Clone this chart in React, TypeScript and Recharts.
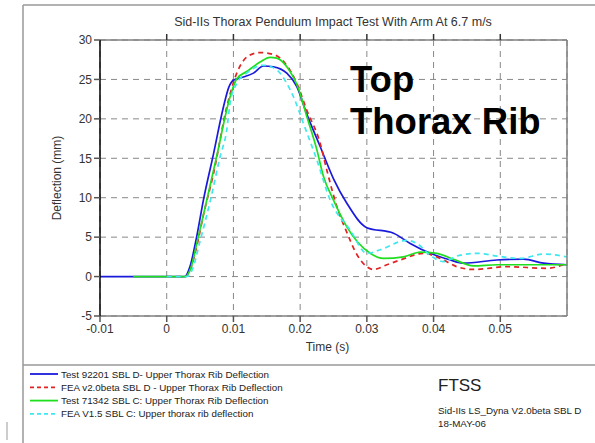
import { LineChart, Line, XAxis, YAxis, CartesianGrid } from 'recharts'

const FONT = '"Liberation Sans", Arial, sans-serif'

// axes
const xTicks = [-0.01, 0, 0.01, 0.02, 0.03, 0.04, 0.05]
const xTicksTop = [0, 0.01, 0.02, 0.03, 0.04, 0.05]
const yTicks = [-5, 0, 5, 10, 15, 20, 25, 30]

// Test 92201 SBL D
const blueT = [-0.01, -0.005, 0, 0.0027, 0.0035, 0.0045, 0.0055, 0.007, 0.0085, 0.0093, 0.01, 0.0115, 0.013, 0.0145, 0.016, 0.018, 0.0195, 0.021, 0.023, 0.025, 0.027, 0.03, 0.034, 0.0365, 0.0395, 0.0425, 0.0445, 0.0495, 0.0535, 0.0565, 0.06]
const blueV = [0, 0, 0, 0, 1.3, 5.1, 9.7, 15.5, 21.5, 24.0, 24.9, 25.3, 25.8, 26.7, 26.6, 25.8, 24.1, 20.6, 16.5, 12.4, 9.3, 6.2, 5.5, 4.2, 2.95, 2.1, 1.7, 2.1, 2.2, 1.7, 1.5]

// FEA v2.0beta SBL D
const redT = [0, 0.0028, 0.0035, 0.0045, 0.0055, 0.007, 0.009, 0.0105, 0.0125, 0.014, 0.0162, 0.0178, 0.0195, 0.021, 0.023, 0.024, 0.0255, 0.027, 0.0285, 0.03, 0.031, 0.033, 0.035, 0.0385, 0.041, 0.0435, 0.046, 0.051, 0.057, 0.06]
const redV = [0, 0, 0.8, 3.8, 7.8, 13.0, 21.5, 25.8, 28.1, 28.4, 28.1, 27.0, 24.5, 21.1, 16.9, 13.5, 8.9, 5.6, 2.8, 1.25, 0.9, 1.5, 2.1, 2.95, 2.3, 1.25, 0.9, 1.25, 1.05, 1.7]

// Test 71342 SBL C
const greenT = [-0.005, 0, 0.0028, 0.0035, 0.00475, 0.006, 0.0075, 0.0095, 0.0105, 0.012, 0.014, 0.0155, 0.0165, 0.018, 0.0198, 0.021, 0.0225, 0.0235, 0.025, 0.027, 0.0305, 0.0325, 0.0355, 0.038, 0.0405, 0.043, 0.046, 0.0495, 0.055, 0.06]
const greenV = [0, 0, 0, 0.8, 5.1, 9.7, 15.3, 22.8, 25.1, 26.0, 27.2, 27.8, 27.7, 26.6, 23.7, 20.3, 16.1, 12.7, 9.7, 6.3, 2.95, 2.3, 2.5, 3.1, 2.95, 2.2, 1.35, 1.5, 1.5, 1.5]

// FEA V1.5 SBL C
const cyanT = [0, 0.003, 0.0038, 0.005, 0.0065, 0.008, 0.009, 0.0095, 0.0105, 0.012, 0.0145, 0.0165, 0.018, 0.019, 0.0205, 0.0225, 0.0245, 0.0275, 0.03, 0.032, 0.036, 0.0375, 0.0395, 0.0415, 0.0435, 0.0465, 0.0495, 0.053, 0.0565, 0.06]
const cyanV = [0, 0, 0.8, 4.5, 9.5, 15.2, 18.6, 22.0, 24.5, 25.8, 26.8, 26.2, 24.5, 22.8, 19.4, 14.8, 9.7, 5.9, 2.95, 3.4, 4.6, 4.2, 2.7, 1.9, 2.6, 2.95, 2.6, 2.3, 2.85, 2.5]

const legendNames = [
  'Test 92201 SBL D- Upper Thorax Rib Deflection',
  'FEA v2.0beta SBL D - Upper Thorax Rib Deflection',
  'Test 71342 SBL C: Upper Thorax Rib Deflection',
  'FEA V1.5 SBL C: Upper thorax rib deflection',
]

const toRows = (t: number[], v: number[]) => t.map((x, i) => ({ t: x, v: v[i] }))

const series = [
  { name: legendNames[0], data: toRows(blueT, blueV), color: '#1a1adc', dash: undefined },
  { name: legendNames[1], data: toRows(redT, redV), color: '#e02424', dash: '5 4' },
  { name: legendNames[2], data: toRows(greenT, greenV), color: '#1ede1e', dash: undefined },
  { name: legendNames[3], data: toRows(cyanT, cyanV), color: '#3ee8ee', dash: '5 4' },
]

const tickStyle = { fontSize: 12, fill: '#333', fontFamily: FONT }

export default function App() {
  return (
    <div style={{ position: 'absolute', left: 0, top: 0, width: 595, height: 443, background: '#fff', fontFamily: FONT }}>
      <LineChart width={595} height={360} margin={{ top: 0, right: 0, bottom: 0, left: 0 }}>
        <CartesianGrid stroke="#888" strokeDasharray="6 5" />
        <XAxis
          type="number" dataKey="t" domain={[-0.01, 0.06]} ticks={xTicks} allowDataOverflow
          height={44} stroke="#808080" strokeWidth={1.5} tick={tickStyle}
          tickLine={{ stroke: '#555' }}
          label={{ value: 'Time (s)', position: 'insideBottom', offset: 9, dx: -6, style: { fontSize: 12, fill: '#333', fontFamily: FONT } }}
        />
        <XAxis
          xAxisId="top" orientation="top" type="number" dataKey="t" domain={[-0.01, 0.06]} ticks={xTicksTop} allowDataOverflow
          height={40} stroke="#808080" strokeWidth={1.5} tickFormatter={() => ''} tickLine={{ stroke: '#333' }}
        />
        <YAxis
          type="number" domain={[-5, 30]} ticks={yTicks} width={100} stroke="#000" strokeWidth={1.5}
          tick={tickStyle} tickLine={{ stroke: '#555' }}
        />
        <YAxis
          yAxisId="right" orientation="right" type="number" domain={[-5, 30]} ticks={yTicks} width={28}
          stroke="#808080" strokeWidth={1.5} tickFormatter={() => ''} tickLine={{ stroke: '#555' }}
        />
        {series.map((s) => (
          <Line
            key={s.name} data={s.data} dataKey="v" name={s.name} type="monotone"
            stroke={s.color} strokeWidth={1.7} strokeDasharray={s.dash}
            dot={false} activeDot={false} isAnimationActive={false}
          />
        ))}
      </LineChart>

      <svg width={595} height={443} style={{ position: 'absolute', left: 0, top: 0, pointerEvents: 'none' }}>
        {/* frame */}
        <line x1={23} y1={5} x2={595} y2={5} stroke="#999" strokeWidth={1.5} />
        <line x1={23} y1={5} x2={23} y2={443} stroke="#999" strokeWidth={1.5} />
        <line x1={23} y1={365} x2={595} y2={365} stroke="#999" strokeWidth={1.5} />
        <line x1={7} y1={422} x2={7} y2={440} stroke="#999" strokeWidth={1} />

        <text x={333} y={26} textAnchor="middle" fontSize={12.5} fill="#333" fontFamily={FONT}>
          Sid-IIs Thorax Pendulum Impact Test With Arm At 6.7 m/s
        </text>
        <text x={61} y={178} transform="rotate(-90 61 178)" textAnchor="middle" fontSize={12} fill="#333" fontFamily={FONT}>
          Deflection (mm)
        </text>

        <text x={350} y={92} fontSize={36.5} fontWeight="bold" fill="#000" fontFamily={FONT}>Top</text>
        <text x={350} y={134} fontSize={36.5} fontWeight="bold" fill="#000" fontFamily={FONT}>Thorax Rib</text>

        {series.map((s, i) => (
          <g key={s.name}>
            <line x1={30} x2={58} y1={374 + i * 13.3} y2={374 + i * 13.3} stroke={s.color} strokeWidth={1.8} strokeDasharray={s.dash ? '4 3' : undefined} />
            <text x={61} y={377.5 + i * 13.3} fontSize={9.8} fill="#222" fontFamily={FONT}>{s.name}</text>
          </g>
        ))}

        <text x={438} y={391} fontSize={17} fill="#222" fontFamily={FONT}>FTSS</text>
        <text x={438} y={414} fontSize={9.8} fill="#222" fontFamily={FONT}>Sid-IIs LS_Dyna V2.0beta SBL D</text>
        <text x={438} y={427} fontSize={9.8} fill="#222" fontFamily={FONT}>18-MAY-06</text>
      </svg>
    </div>
  )
}
